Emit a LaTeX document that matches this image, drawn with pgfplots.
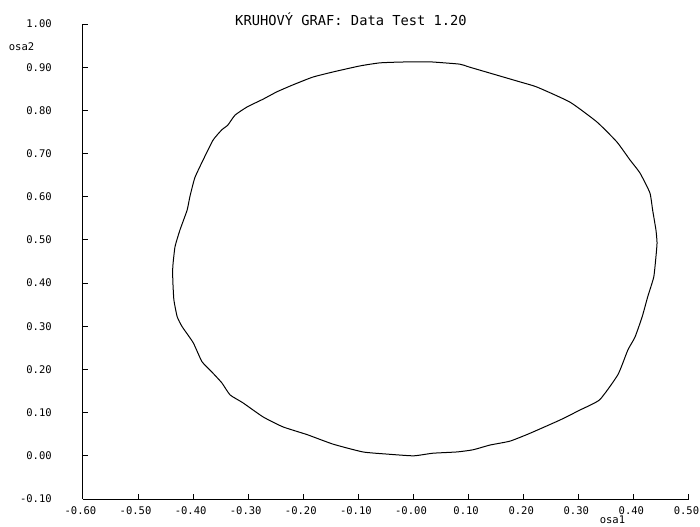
\documentclass[border=0pt]{standalone}
\usepackage{fontspec}
\usepackage{pgfplots}
\pgfplotsset{compat=1.18}
\newfontfamily\monof{DejaVu Sans Mono}
\begin{document}
\begin{tikzpicture}
\useasboundingbox (-62.25pt,-20.25pt) rectangle (462.75pt,374.25pt);
\begin{axis}[
  at={(0pt,0pt)}, anchor=south west,
  scale only axis, width=454.5pt, height=356.25pt,
  xmin=-0.6, xmax=0.5, ymin=-0.1, ymax=1.0,
  axis x line=bottom, axis y line=left,
  axis line style={-, line width=0.75pt, black},
  tick align=inside, major tick length=3.75pt,
  tick style={line width=0.75pt, black},
  xtick={-0.6,-0.5,-0.4,-0.3,-0.2,-0.1,0,0.1,0.2,0.3,0.4,0.5},
  xticklabels={-0.60,-0.50,-0.40,-0.30,-0.20,-0.10,-0.00,0.10,0.20,0.30,0.40,0.50},
  ytick={-0.1,0,0.1,0.2,0.3,0.4,0.5,0.6,0.7,0.8,0.9,1.0},
  yticklabels={-0.10,0.00,0.10,0.20,0.30,0.40,0.50,0.60,0.70,0.80,0.90,1.00},
  ticklabel style={font=\monof\fontsize{7.9}{9}\selectfont},
  xticklabel style={anchor=north, inner sep=0pt, yshift=-5.5pt, xshift=-1.9pt},
  yticklabel style={anchor=east, inner sep=0pt, xshift=-23.25pt},
  clip=false,
]
\addplot[black, line width=0.75pt, smooth, tension=0.3] coordinates {
(0.035,0.912) (-0.019,0.912) (-0.061,0.910) (-0.097,0.903) (-0.146,0.889)
(-0.183,0.877) (-0.219,0.859) (-0.248,0.843) (-0.273,0.826) (-0.302,0.808)
(-0.324,0.789) (-0.337,0.766) (-0.348,0.755) (-0.364,0.731) (-0.382,0.685)
(-0.397,0.644) (-0.406,0.600) (-0.411,0.569) (-0.424,0.523) (-0.433,0.484)
(-0.437,0.438) (-0.437,0.407) (-0.435,0.361) (-0.429,0.322) (-0.420,0.299)
(-0.400,0.262) (-0.384,0.218) (-0.366,0.194) (-0.348,0.169) (-0.333,0.141)
(-0.310,0.123) (-0.273,0.090) (-0.237,0.067) (-0.193,0.049) (-0.146,0.027)
(-0.092,0.009) (-0.048,0.004) (0.000,0.000) (0.035,0.006) (0.079,0.009)
(0.108,0.014) (0.139,0.025) (0.175,0.034) (0.211,0.052) (0.266,0.083)
(0.302,0.106) (0.338,0.130) (0.371,0.188) (0.389,0.245) (0.402,0.275)
(0.415,0.322) (0.425,0.368) (0.436,0.414) (0.440,0.461) (0.442,0.493)
(0.440,0.523) (0.434,0.569) (0.429,0.609) (0.411,0.655) (0.393,0.685)
(0.369,0.727) (0.333,0.773) (0.284,0.819) (0.224,0.854) (0.193,0.866)
(0.102,0.900) (0.084,0.907) (0.035,0.912)
};
\end{axis}
\node[font=\monof\fontsize{10.3}{12}\selectfont, inner sep=0pt] at (201pt,360pt) {KRUHOVÝ GRAF: Data Test 1.20};
\node[font=\monof\fontsize{7.9}{9}\selectfont, inner sep=0pt] at (-46.1pt,339pt) {osa2};
\node[font=\monof\fontsize{7.9}{9}\selectfont, inner sep=0pt] at (397.1pt,-15.5pt) {osa1};
\end{tikzpicture}
\end{document}
